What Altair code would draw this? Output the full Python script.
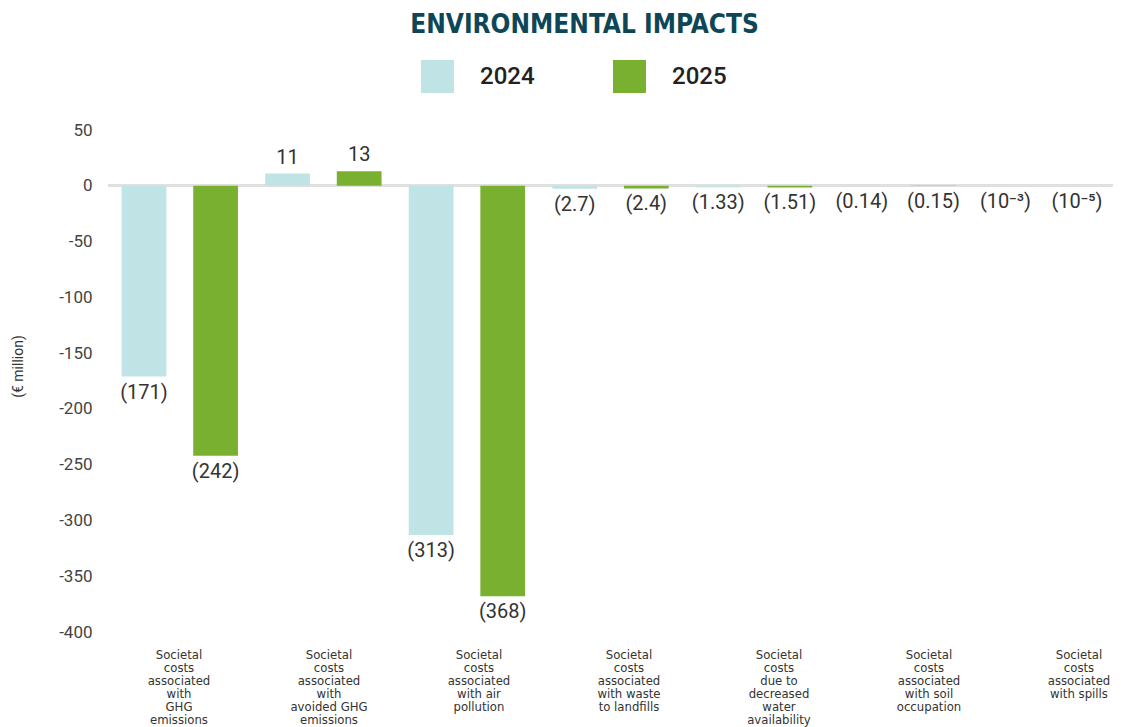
import altair as alt
import pandas as pd

# ---- data ----
category_lines = [
    ["Societal", "costs", "associated", "with", "GHG", "emissions"],
    ["Societal", "costs", "associated", "with", "avoided GHG", "emissions"],
    ["Societal", "costs", "associated", "with air", "pollution"],
    ["Societal", "costs", "associated", "with waste", "to landfills"],
    ["Societal", "costs", "due to", "decreased", "water", "availability"],
    ["Societal", "costs", "associated", "with soil", "occupation"],
    ["Societal", "costs", "associated", "with spills"],
]
categories = ["\n".join(lines) for lines in category_lines]
years = ["2024", "2025"]
values_2024 = [-171, 11, -313, -2.7, -1.33, -0.14, -0.001]
values_2025 = [-242, 13, -368, -2.4, -1.51, -0.15, -0.00001]
labels_2024 = ["(171)", "11", "(313)", "(2.7)", "(1.33)", "(0.14)", "(10\u207b\u00b3)"]
labels_2025 = ["(242)", "13", "(368)", "(2.4)", "(1.51)", "(0.15)", "(10\u207b\u2075)"]
y_ticks = [50, 0, -50, -100, -150, -200, -250, -300, -350, -400]
colors = ["#c0e3e6", "#7ab030"]

rows = []
for cat, v, lab in zip(categories, values_2024, labels_2024):
    rows.append({"category": cat, "year": "2024", "value": v, "label": lab})
for cat, v, lab in zip(categories, values_2025, labels_2025):
    rows.append({"category": cat, "year": "2025", "value": v, "label": lab})
df = pd.DataFrame(rows)

COND = "'Liberation Sans Narrow', 'DejaVu Sans Condensed', 'Roboto', sans-serif"
REG = "Roboto, 'Noto Sans', sans-serif"

x_enc = alt.X(
    "category:N",
    sort=categories,
    title=None,
    scale=alt.Scale(paddingInner=0, paddingOuter=0),
    axis=alt.Axis(
        labelExpr="split(datum.label, '\\n')",
        labelAngle=0,
        labelFont=COND,
        labelFontSize=13,
        labelLineHeight=13,
        labelColor="#333333",
        labelPadding=16,
        labelBaseline="top",
        labelOffset=alt.ExprRef("indexof(domain('x'), datum.value) * 6.43 - 0.8"),
        ticks=False,
        domain=False,
        grid=False,
        labelLimit=300,
    ),
)
xoff_enc = alt.XOffset(
    "year:N", sort=years, scale=alt.Scale(paddingInner=0.375, paddingOuter=0.19)
)
y_enc = alt.Y(
    "value:Q",
    title="(\u20ac million)",
    scale=alt.Scale(domain=[-400, 50], nice=False, zero=False),
    axis=alt.Axis(
        values=y_ticks,
        labelExpr="datum.value + ''",
        labelFont=REG,
        labelFontSize=17,
        labelColor="#444444",
        labelPadding=16,
        ticks=False,
        domain=False,
        gridColor="#e8e8e8",
        gridWidth=1.5,
        titleFont=REG,
        titleFontSize=14,
        titleFontWeight="normal",
        titleColor="#333333",
        titleX=-90,
        titleY=236,
        titleAlign="center",
        titleBaseline="middle",
        titleAngle=270,
    ),
)
color_enc = alt.Color(
    "year:N",
    sort=years,
    scale=alt.Scale(domain=years, range=colors),
    legend=alt.Legend(
        title=None,
        orient="none",
        legendX=313,
        legendY=-70,
        direction="horizontal",
        symbolType="square",
        symbolSize=1089,
        symbolStrokeWidth=0,
        symbolOpacity=1,
        labelFont=REG,
        labelFontSize=24,
        labelFontWeight=500,
        labelColor="#222222",
        labelOffset=26,
        columnPadding=78,
        padding=0,
        labelLimit=200,
    ),
)

base = alt.Chart(df)

zero_line = base.mark_rule(color="#e0e0e0", strokeWidth=2.5).encode(y=alt.datum(0))

bars = base.mark_bar().encode(x=x_enc, xOffset=xoff_enc, y=y_enc, color=color_enc)

neg_labels = (
    base.transform_filter("datum.value < 0")
    .mark_text(baseline="top", dy=6, font=REG, fontSize=20, color="#333333")
    .encode(x=alt.X("category:N", sort=categories), xOffset=alt.XOffset("year:N", sort=years),
            y="value:Q", text="label:N")
)
pos_labels = (
    base.transform_filter("datum.value >= 0")
    .mark_text(baseline="bottom", dy=-6, font=REG, fontSize=20, color="#333333")
    .encode(x=alt.X("category:N", sort=categories), xOffset=alt.XOffset("year:N", sort=years),
            y="value:Q", text="label:N")
)

chart = (
    alt.layer(zero_line, bars, neg_labels, pos_labels)
    .properties(
        width=1005,
        height=502,
        title=alt.Title(
            "ENVIRONMENTAL IMPACTS",
            font=COND,
            fontSize=26,
            fontWeight="bold",
            color="#0d4757",
            anchor="middle",
            dx=-26,
            offset=22,
        ),
        autosize=alt.AutoSizeParams(type="none"),
        padding={"left": 100, "top": 122, "right": 0, "bottom": 100},
    )
    .configure_view(stroke=None)
)

chart.save("out.html", embed_options={"renderer": "svg", "actions": False})
